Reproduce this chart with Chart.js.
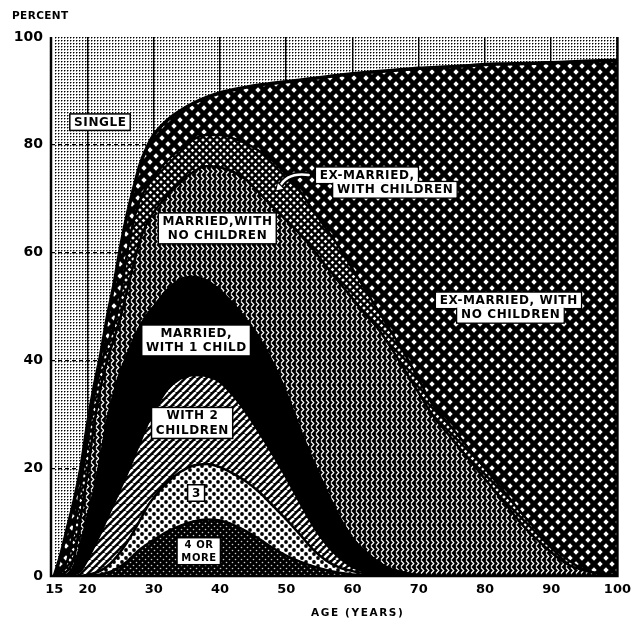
<!DOCTYPE html>
<html>
<head>
<meta charset="utf-8">
<script src="https://cdn.jsdelivr.net/npm/chart.js@4.4.1/dist/chart.umd.min.js"></script>
<style>
  body { margin: 0; background: #fff; }
  #wrap { width: 637px; height: 621px; }
</style>
</head>
<body>
<div id="wrap"><canvas id="myChart"></canvas></div>
<script>
'use strict';

// age in years (x axis)
var ages = [15,16,17,18,19,20,21,22,23,24,25,26,27,28,29,30,32,34,36,38,40,42,44,46,48,50,
            52,54,56,58,60,62,64,66,68,70,72,75,78,80,83,86,89,92,95,100];

// upper edge of each band, percent (bottom band first)
var fourOrMoreTop = [0,0,0,0,0,0,0.1,0.3,0.6,1.1,1.8,2.7,3.9,5,5.9,6.7,8.2,9.3,10.1,10.5,10.3,9.5,8.3,6.8,5.2,3.8,
                     2.7,1.8,1.1,0.6,0.3,0.15,0.05,0,0,0,0,0,0,0,0,0,0,0,0,0];
var threeTop      = [0,0,0,0,0,0.2,0.5,1,1.8,3,4.5,6.3,8.3,10.5,12.8,14.5,17.3,19.3,20.5,20.8,20.2,19,17.5,15.5,13,10.5,
                     7.8,5,2.9,1.6,0.9,0.5,0.2,0.05,0,0,0,0,0,0,0,0,0,0,0,0];
var twoTop        = [0,0,0,0.3,1,3,5.5,8,10.8,13.5,16.3,19,22,25,28,30.5,34.5,36.6,37.3,37.1,36,33.5,30.3,26.5,22.5,18.3,
                     13.8,9.5,6,3.4,1.7,0.8,0.3,0.1,0,0,0,0,0,0,0,0,0,0,0,0];
var oneTop        = [0,0,0.3,2,6,11,16,22,29,34,38,41,44,46.5,48.5,50,53,55,55.5,54.8,53,50.5,47.5,44,39.5,34,
                     27.5,21.5,16,11,7,4.5,2.5,1.2,0.6,0.2,0,0,0,0,0,0,0,0,0,0];
var marriedNoTop  = [0,0.3,1,3.5,11,19,28,35,40,44,48,53,58,62.5,65.5,67.5,70.5,73,75,76,75.8,75,73.5,71,68.5,66,
                     63.5,60.7,57.5,54.5,51.5,48.5,45.7,42,38,34,30,25.5,21,18,13.5,9,5.5,2.5,1,0];
var exWithTop     = [0,1,3,9,17,25,33,39,43,46.5,52,60,66,70,72.2,74,77,79.2,81,81.8,81.8,81.2,80.2,78.8,77,74.5,
                     71.5,68,64.5,61,57,53,49,45,41,36.5,32,27.5,23,20,15.5,11,7,3.5,1.2,0];
var exNoTop       = [0,4,9,14,20,28,35,41,48,54,61,67,72,76.5,79.5,81.8,84.5,86.3,87.7,88.8,89.6,90.2,90.7,91.1,91.4,91.7,
                     92,92.3,92.6,92.9,93.2,93.4,93.6,93.8,94,94.2,94.3,94.5,94.7,94.9,95,95.1,95.2,95.3,95.5,95.7];

var xTicks = [15,20,30,40,50,60,70,80,90,100];
var yTicks = [0,20,40,60,80,100];

// band names as printed, with where the name sits (age, percent)
var bandLabels = [
  { lines: ['SINGLE'], age: 21.9, pct: 84.2 },
  { lines: ['MARRIED,WITH', 'NO CHILDREN'], age: 39.6, pct: 64.5 },
  { lines: ['EX-MARRIED,', 'WITH CHILDREN'], age: 64.3, pct: 73.0, shift: [-14, 14] },
  { lines: ['EX-MARRIED, WITH', 'NO CHILDREN'], age: 83.7, pct: 49.8, shift: [-1, 1] },
  { lines: ['MARRIED,', 'WITH 1 CHILD'], age: 36.4, pct: 43.7 },
  { lines: ['WITH 2', 'CHILDREN'], age: 35.8, pct: 28.4 },
  { lines: ['3'], age: 36.4, pct: 15.4 },
  { lines: ['4 OR', 'MORE'], age: 36.8, pct: 4.6, size: 10 }
];

function tile(w, h, paint) {
    var c = document.createElement('canvas');
    c.width = w;
    c.height = h;
    var g = c.getContext('2d');
    paint(g, w, h);
    return g.createPattern(c, 'repeat');
}
function diamond(g, x, y, r) {
    g.beginPath();
    g.moveTo(x, y - r);
    g.lineTo(x + r, y);
    g.lineTo(x, y + r);
    g.lineTo(x - r, y);
    g.closePath();
    g.fill();
}
function checker(s, r) {
    return tile(s, s, function (g) {
        g.fillStyle = '#000';
        g.fillRect(0, 0, s, s);
        g.fillStyle = '#fff';
        [[s / 2, s / 2], [0, 0], [s, 0], [0, s], [s, s]].forEach(function (p) {
            diamond(g, p[0], p[1], r);
        });
    });
}

var stipple = tile(3, 3, function (g) {
    g.fillStyle = '#000';
    g.fillRect(1, 1, 1, 1);
    g.fillStyle = 'rgba(0,0,0,0.45)';
    g.fillRect(2, 1, 1, 1);
    g.fillRect(1, 2, 1, 1);
});
var bigCheck = checker(12, 2.7);
var smallCheck = checker(7, 1.8);
var zigzag = tile(5, 7, function (g) {
    g.fillStyle = '#000';
    g.fillRect(0, 0, 5, 7);
    g.strokeStyle = '#fff';
    g.lineWidth = 1.2;
    g.beginPath();
    g.moveTo(1, 0.5);
    g.lineTo(3.8, 3.5);
    g.lineTo(1, 6.5);
    g.stroke();
});
var stripes = tile(7, 7, function (g) {
    g.fillStyle = '#000';
    g.fillRect(0, 0, 7, 7);
    g.strokeStyle = '#fff';
    g.lineWidth = 2.5;
    [-1, 0, 1].forEach(function (k) {
        g.beginPath();
        g.moveTo(k * 7, 7);
        g.lineTo(k * 7 + 7, 0);
        g.stroke();
    });
});
var dots = tile(8, 8, function (g) {
    g.fillStyle = '#fff';
    g.fillRect(0, 0, 8, 8);
    g.fillStyle = '#000';
    [[2, 2], [6, 6]].forEach(function (p) {
        g.beginPath();
        g.arc(p[0], p[1], 1.9, 0, Math.PI * 2);
        g.fill();
    });
});
var darkDots = tile(6, 6, function (g) {
    g.fillStyle = '#000';
    g.fillRect(0, 0, 6, 6);
    g.fillStyle = 'rgba(255,255,255,0.8)';
    [[1.5, 1.5], [4.5, 4.5]].forEach(function (p) {
        g.beginPath();
        g.arc(p[0], p[1], 0.8, 0, Math.PI * 2);
        g.fill();
    });
});

var bands = [
    { label: '4 or more', top: fourOrMoreTop, bg: darkDots, fill: 'origin', line: 2.5 },
    { label: '3', top: threeTop, bg: dots, fill: '-1', line: 2.5 },
    { label: 'With 2 children', top: twoTop, bg: stripes, fill: '-1', line: 2.5 },
    { label: 'Married, with 1 child', top: oneTop, bg: '#000', fill: '-1', line: 2.5 },
    { label: 'Married, with no children', top: marriedNoTop, bg: zigzag, fill: '-1', line: 2.5 },
    { label: 'Ex-married, with children', top: exWithTop, bg: smallCheck, fill: '-1', line: 2.5 },
    { label: 'Ex-married, with no children', top: exNoTop, bg: bigCheck, fill: '-1', line: 3.5 },
    { label: 'Single', top: exNoTop, bg: stipple, fill: 'end', line: 0 }
];

var datasets = bands.map(function (b) {
    return {
        label: b.label,
        data: ages.map(function (a, i) { return { x: a, y: b.top[i] }; }),
        backgroundColor: b.bg,
        borderColor: '#000',
        borderWidth: b.line,
        fill: b.fill,
        pointRadius: 0,
        cubicInterpolationMode: 'monotone',
        borderJoinStyle: 'round'
    };
});

var FONT = '"DejaVu Sans", sans-serif';

function drawLabel(ctx, x, y, lab) {
    var size = lab.size || 12;
    var lh = size + 2.5;
    ctx.font = 'bold ' + size + 'px ' + FONT;
    ctx.letterSpacing = '0.6px';
    var widths = lab.lines.map(function (t) { return ctx.measureText(t).width; });
    var n = lab.lines.length;
    var top = y - n * lh / 2;
    var padX = 4;
    ctx.fillStyle = '#fff';
    ctx.strokeStyle = '#000';
    ctx.lineWidth = 1.5;
    if (lab.shift) {
        lab.lines.forEach(function (t, i) {
            var cx = x + lab.shift[i];
            ctx.fillRect(cx - widths[i] / 2 - padX, top + i * lh - 1, widths[i] + padX * 2, lh + 2);
            ctx.strokeRect(cx - widths[i] / 2 - padX, top + i * lh - 1, widths[i] + padX * 2, lh + 2);
        });
        lab.lines.forEach(function (t, i) {
            var cx = x + lab.shift[i];
            ctx.fillStyle = '#fff';
            ctx.fillRect(cx - widths[i] / 2 - padX + 0.8, top + i * lh - 0.2, widths[i] + padX * 2 - 1.6, lh + 0.4);
        });
    } else {
        var w = Math.max.apply(null, widths);
        ctx.fillRect(x - w / 2 - padX, top - 1, w + padX * 2, n * lh + 2);
        ctx.strokeRect(x - w / 2 - padX, top - 1, w + padX * 2, n * lh + 2);
    }
    ctx.fillStyle = '#000';
    ctx.textAlign = 'center';
    ctx.textBaseline = 'middle';
    lab.lines.forEach(function (t, i) {
        var cx = x + (lab.shift ? lab.shift[i] : 0);
        ctx.fillText(t, cx + 0.3, top + lh * (i + 0.5) + 0.5);
    });
}

var decorations = {
    id: 'decorations',
    afterDatasetsDraw: function (chart) {
        var ctx = chart.ctx;
        var area = chart.chartArea;
        var xs = chart.scales.x;
        var ys = chart.scales.y;
        ctx.save();
        // frame
        ctx.strokeStyle = '#000';
        ctx.lineWidth = 2.5;
        ctx.beginPath();
        ctx.moveTo(area.left, area.top);
        ctx.lineTo(area.left, area.bottom);
        ctx.lineTo(area.right, area.bottom);
        ctx.lineTo(area.right, area.top);
        ctx.stroke();

        // arrow to the thin ex-married band
        var ax = xs.getPixelForValue(62.0) - 57;
        var ay = ys.getPixelForValue(74.4);
        var tx = xs.getPixelForValue(48.4);
        var ty = ys.getPixelForValue(71.4);
        ctx.lineCap = 'round';
        ctx.strokeStyle = '#000';
        ctx.lineWidth = 6;
        ctx.beginPath();
        ctx.moveTo(ax, ay);
        ctx.quadraticCurveTo(ax - 22, ay - 3, tx + 4, ty - 4);
        ctx.stroke();
        ctx.strokeStyle = '#fff';
        ctx.lineWidth = 2.5;
        ctx.stroke();
        ctx.fillStyle = '#fff';
        ctx.strokeStyle = '#000';
        ctx.lineWidth = 1.2;
        ctx.beginPath();
        ctx.moveTo(tx, ty);
        ctx.lineTo(tx + 2, ty - 9);
        ctx.lineTo(tx + 9, ty - 2);
        ctx.closePath();
        ctx.fill();
        ctx.stroke();

        bandLabels.forEach(function (lab) {
            drawLabel(ctx, xs.getPixelForValue(lab.age), ys.getPixelForValue(lab.pct), lab);
        });

        // axis titles
        ctx.fillStyle = '#000';
        ctx.textBaseline = 'middle';
        ctx.font = 'bold 10.5px ' + FONT;
        ctx.letterSpacing = '0.4px';
        ctx.textAlign = 'left';
        ctx.fillText('PERCENT', 12, 16);
        ctx.letterSpacing = '1.6px';
        ctx.textAlign = 'center';
        ctx.fillText('AGE (YEARS)', xs.getPixelForValue(60.8), area.bottom + 37);
        ctx.restore();
    }
};

var myChart = new Chart(document.getElementById('myChart'), {
    type: 'line',
    data: { datasets: datasets },
    plugins: [decorations],
    options: {
        responsive: true,
        maintainAspectRatio: false,
        devicePixelRatio: 1,
        animation: false,
        events: [],
        layout: { padding: { top: 37, right: 19, left: 0, bottom: 0 } },
        plugins: {
            legend: { display: false },
            tooltip: { enabled: false },
            filler: { propagate: false }
        },
        scales: {
            x: {
                type: 'linear',
                min: 14.5,
                max: 100,
                afterBuildTicks: function (scale) {
                    scale.ticks = xTicks.map(function (v) { return { value: v }; });
                },
                afterFit: function (scale) { scale.height = 45; },
                grid: {
                    drawTicks: false,
                    lineWidth: 1.4,
                    color: function (c) {
                        var v = c.tick && c.tick.value;
                        return (v === 15 || v === 100) ? 'rgba(0,0,0,0)' : '#000';
                    }
                },
                border: { display: false },
                ticks: {
                    autoSkip: false,
                    maxRotation: 0,
                    padding: 6,
                    color: '#000',
                    font: { family: FONT, weight: 'bold', size: 13 }
                }
            },
            y: {
                min: 0,
                max: 100,
                afterBuildTicks: function (scale) {
                    scale.ticks = yTicks.map(function (v) { return { value: v }; });
                },
                afterFit: function (scale) { scale.width = 51; },
                grid: {
                    drawTicks: false,
                    lineWidth: 1.3,
                    color: function (c) {
                        var v = c.tick && c.tick.value;
                        return (v === 0 || v === 100) ? 'rgba(0,0,0,0)' : '#000';
                    }
                },
                border: { display: false, dash: [4, 3] },
                ticks: {
                    padding: 8,
                    color: '#000',
                    font: { family: FONT, weight: 'bold', size: 14 }
                }
            }
        }
    }
});
</script>
</body>
</html>
